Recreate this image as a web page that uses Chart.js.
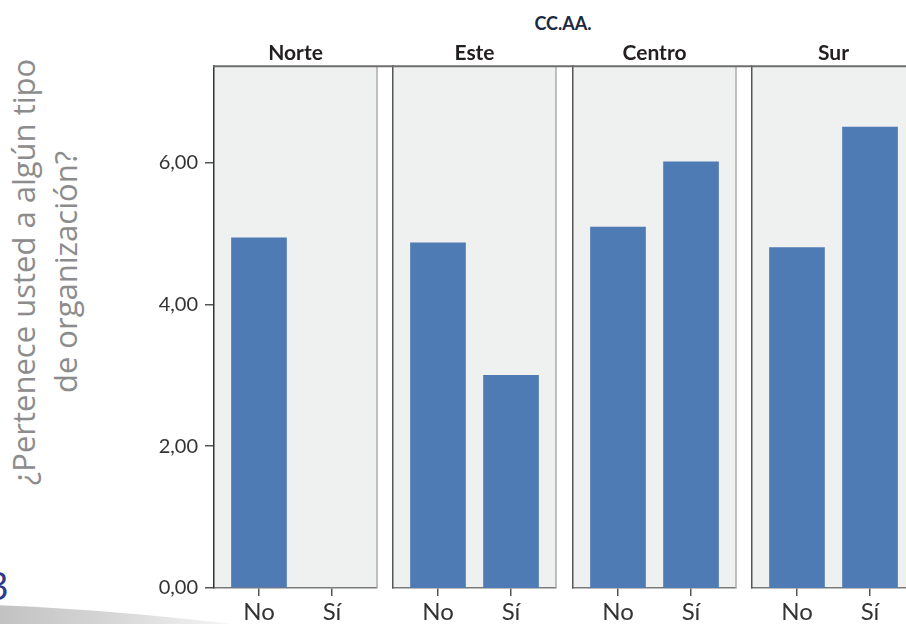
<!DOCTYPE html>
<html>
<head>
<meta charset="utf-8">
<script src="https://cdn.jsdelivr.net/npm/chart.js@4/dist/chart.umd.min.js"></script>
<style>
    body { margin: 0; background: #fff; overflow: hidden; }
    #wrap { position: relative; width: 906px; height: 624px; overflow: hidden; }
    canvas { position: absolute; top: 0; }
    .swoosh {
        position: absolute; left: -1150px; top: 602px; width: 2000px; height: 580px;
        border-radius: 50%;
        background: linear-gradient(to right, #bdbdbd 56%, #d6d6d6 63%, #ffffff 71%);
    }
    .ytitle {
        position: absolute; left: -206px; top: 230px; width: 500px; height: 84px;
        transform: rotate(-90deg);
        font-family: "Open Sans", sans-serif; font-size: 31px; line-height: 42px;
        color: #8c8c8c; text-align: center; white-space: nowrap;
    }
    .pagenum {
        position: absolute; left: -13px; top: 566px;
        font-family: "Open Sans", sans-serif; font-size: 38px; line-height: 38px;
        color: #2d3a8c;
    }
    .supertitle {
        position: absolute; left: 463px; top: 13px; width: 200px; text-align: center;
        font-family: Lato, sans-serif; font-weight: bold; font-size: 18px; line-height: 20px;
        color: #1b2a41;
    }
</style>
</head>
<body>
<div id="wrap">
    <div class="swoosh"></div>
    <div class="ytitle">¿Pertenece usted a algún tipo<br>de organización?</div>
    <div class="pagenum">3</div>
    <div class="supertitle">CC.AA.</div>
    <canvas id="c0" width="393" height="624" style="left:0px"></canvas>
    <canvas id="c1" width="180" height="624" style="left:392px"></canvas>
    <canvas id="c2" width="180" height="624" style="left:572px"></canvas>
    <canvas id="c3" width="180" height="624" style="left:751px"></canvas>
</div>

<script>
// data
const regions = ['Norte', 'Este', 'Centro', 'Sur'];
const categories = ['No', 'Sí'];
const noValues = [4.94, 4.87, 5.09, 4.80];
const siValues = [null, 3.00, 6.01, 6.50];
const yTicks = [0, 2, 4, 6];
const yMax = 7.36;

const barColor = '#4e7bb3';
const panelColor = '#eff0f0';

// panel background + right/top frame lines
const panelPlugin = {
    id: 'panel',
    beforeDraw(chart) {
        const a = chart.chartArea;
        const ctx = chart.ctx;
        ctx.save();
        ctx.fillStyle = panelColor;
        ctx.fillRect(a.left, a.top, a.right - a.left, a.bottom - a.top);
        ctx.restore();
    },
    afterDraw(chart) {
        const a = chart.chartArea;
        const ctx = chart.ctx;
        ctx.save();
        ctx.strokeStyle = '#ababab';
        ctx.lineWidth = 1.5;
        ctx.beginPath();
        ctx.moveTo(a.right, a.top);
        ctx.lineTo(a.right, a.bottom);
        ctx.stroke();
        ctx.strokeStyle = '#6e6e6e';
        ctx.lineWidth = 2;
        ctx.beginPath();
        ctx.moveTo(a.left - 1, a.top);
        ctx.lineTo(chart.width, a.top);
        ctx.stroke();
        ctx.restore();
    }
};

function makeChart(i) {
    const first = i === 0;
    const ctx = document.getElementById('c' + i).getContext('2d');
    const points = [
        { x: 0, y: noValues[i] },
        { x: 1, y: siValues[i] }
    ];

    return new Chart(ctx, {
        type: 'bar',
        data: {
            datasets: [{
                data: points,
                backgroundColor: barColor,
                borderWidth: 0,
                barThickness: 55
            }]
        },
        plugins: [panelPlugin],
        options: {
            responsive: false,
            animation: false,
            layout: {
                padding: { left: first ? 0 : 1, right: 16, top: 0, bottom: 0 }
            },
            plugins: {
                legend: { display: false },
                tooltip: { enabled: false },
                title: {
                    display: true,
                    text: regions[i],
                    fullSize: false,
                    color: '#231f20',
                    font: { family: 'Lato', weight: 'bold', size: 21, lineHeight: 1.2 },
                    padding: { top: 41, bottom: 0 }
                }
            },
            scales: {
                x: {
                    type: 'linear',
                    offset: false,
                    min: -0.616,
                    max: 1.616,
                    afterBuildTicks: (scale) => {
                        scale.ticks = categories.map((c, k) => ({ value: k }));
                    },
                    afterFit: (scale) => { scale.height = 36; },
                    grid: {
                        display: true,
                        offset: false,
                        drawOnChartArea: false,
                        drawTicks: true,
                        tickLength: 8,
                        color: '#555',
                        lineWidth: 1.5
                    },
                    border: { display: true, color: '#7a7a7a', width: 1.5 },
                    ticks: {
                        autoSkip: false,
                        maxRotation: 0,
                        padding: 2,
                        color: '#333',
                        font: { family: 'Lato', size: 24 },
                        callback: (v) => categories[v]
                    }
                },
                y: {
                    min: 0,
                    max: yMax,
                    afterBuildTicks: (scale) => {
                        scale.ticks = yTicks.map(v => ({ value: v }));
                    },
                    afterFit: (scale) => { scale.width = first ? 214 : 0; },
                    grid: {
                        display: first,
                        drawOnChartArea: false,
                        drawTicks: true,
                        tickLength: 9,
                        color: '#555',
                        lineWidth: 1.5
                    },
                    border: { display: true, color: first ? '#333' : '#555', width: 1.5 },
                    ticks: {
                        display: first,
                        padding: 7,
                        color: '#333',
                        font: { family: 'Lato', size: 20 },
                        callback: (v) => v.toFixed(2).replace('.', ',')
                    }
                }
            }
        }
    });
}

window.onload = function () {
    for (let i = 0; i < regions.length; i++) {
        makeChart(i);
    }
};
</script>
</body>
</html>
